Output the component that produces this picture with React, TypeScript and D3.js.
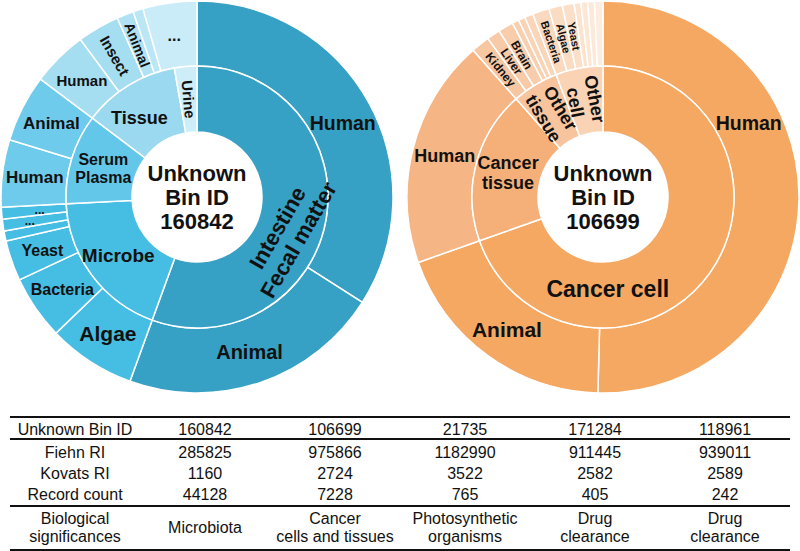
import * as React from 'react';
import * as d3 from 'd3';

// ring data, values are shares of the circle
const leftInnerNames = ['Intestine\nFecal matter', 'Microbe', 'Serum\nPlasma', 'Tissue', 'Urine'];
const leftInnerValues = [200, 67, 40, 43, 10];
const leftOuterNames = ['Human', 'Animal', 'Algae', 'Bacteria', 'Yeast', '', '...', '...', 'Human', 'Animal', 'Human', 'Insect', 'Animal', '', '...'];
const leftOuterValues = [122.5, 77.5, 26, 19, 12, 3, 3.5, 3.5, 20, 20, 16.5, 12.5, 5, 3, 16];

const rightInnerNames = ['Cancer cell', 'Cancer\ntissue', 'Other\ntissue', 'Other\ncell'];
const rightInnerValues = [250.5, 68, 20.5, 21];
const rightOuterNames = ['Human', 'Animal', 'Human', 'Kidney', 'Liver', 'Brain', '', '', '', 'Bacteria', 'Algae', 'Yeast', '', '', '', ''];
const rightOuterValues = [181.5, 69, 68, 5.5, 4, 4.5, 2, 2, 2.5, 5, 4, 3.5, 2, 2, 2, 2.5];

// table
const rowLabels = ['Unknown Bin ID', 'Fiehn RI', 'Kovats RI', 'Record count', 'Biological\nsignificances'];
const binIds = ['160842', '106699', '21735', '171284', '118961'];
const fiehnRI = ['285825', '975866', '1182990', '911445', '939011'];
const kovatsRI = ['1160', '2724', '3522', '2582', '2589'];
const recordCounts = ['44128', '7228', '765', '405', '242'];
const significances = ['Microbiota', 'Cancer\ncells and tissues', 'Photosynthetic\norganisms', 'Drug\nclearance', 'Drug\nclearance'];

const W = 800;
const H = 551;
const R0 = 65;
const R1 = 131;
const R2 = 196;
const FONT = 'Liberation Sans, Arial, Helvetica, sans-serif';

const leftInnerColors = ['#36a1c4', '#46bde2', '#63c7e9', '#9bd9f0', '#cdeef9'];
const leftOuterColors = ['#36a1c4', '#36a1c4', '#46bde2', '#46bde2', '#46bde2', '#46bde2', '#46bde2', '#46bde2',
  '#6fcbeb', '#6fcbeb', '#a5ddf1', '#a5ddf1', '#b0e2f3', '#bbe6f5', '#c9ecf8'];
const rightInnerColors = ['#f5a862', '#f5b079', '#f7c49d', '#f9d3b4'];
const rightOuterColors = ['#f5a862', '#f5a862', '#f6b584', '#f7c7a2', '#f8caa7', '#f8cdab', '#f8d0b0', '#f9d3b5',
  '#f9d6ba', '#fad9be', '#fadcc3', '#fbdfc8', '#fbe3ce', '#fce6d4', '#fce9da', '#fdede1'];

type LabelOpt = { size: number; mode?: 'h' | 'r'; rot?: number; at?: number; r?: number };

const leftInnerOpts: LabelOpt[] = [
  { size: 22, rot: -60, at: 112 },
  { size: 19 },
  { size: 16 },
  { size: 18, at: 324 },
  { size: 15, mode: 'r' },
];
const leftOuterOpts: LabelOpt[] = [
  { size: 19.5, at: 63 }, { size: 20 }, { size: 21 }, { size: 16 }, { size: 16 }, { size: 12 },
  { size: 12, r: 169 }, { size: 12, r: 158 }, { size: 17 }, { size: 17 }, { size: 15 }, { size: 15, mode: 'r' },
  { size: 14, mode: 'r' }, { size: 14 }, { size: 16 },
];
const rightInnerOpts: LabelOpt[] = [
  { size: 23, at: 177, r: 92 },
  { size: 18 },
  { size: 18, mode: 'r' },
  { size: 18, mode: 'r' },
];
const rightOuterOpts: LabelOpt[] = [
  { size: 19.5, at: 63 }, { size: 21 }, { size: 18 },
  { size: 12, mode: 'r' }, { size: 12, mode: 'r' }, { size: 12, mode: 'r' },
  { size: 11 }, { size: 11 }, { size: 11 },
  { size: 11, mode: 'r' }, { size: 11, mode: 'r' }, { size: 11, mode: 'r' },
];

function MultiText({ x, y, text, size, weight, rot }: { x: number; y: number; text: string; size: number; weight?: string; rot?: number }) {
  const lines = text.split('\n');
  const lh = size * 1.1;
  return (
    <text
      transform={`translate(${x},${y})${rot ? `rotate(${rot})` : ''}`}
      textAnchor="middle"
      fontSize={size}
      fontWeight={weight || 'bold'}
      fill="#111"
    >
      {lines.map((l, i) => (
        <tspan key={i} x={0} y={(i - (lines.length - 1) / 2) * lh} dy="0.35em">{l}</tspan>
      ))}
    </text>
  );
}

function Ring({ names, values, colors, opts, r0, r1 }: {
  names: string[]; values: number[]; colors: string[]; opts: LabelOpt[]; r0: number; r1: number;
}) {
  const pie = d3.pie<number>().sort(null).startAngle(0).endAngle(2 * Math.PI);
  const arcs = pie(values);
  const arc = d3.arc<d3.PieArcDatum<number>>().innerRadius(r0).outerRadius(r1);
  return (
    <g>
      {arcs.map((a, i) => (
        <path key={i} d={arc(a) || ''} fill={colors[i]} stroke="#fff" strokeWidth={1.5} />
      ))}
      {arcs.map((a, i) => {
        if (!names[i]) return null;
        const o = opts[i] || { size: 14 };
        const mid = o.at !== undefined ? (o.at * Math.PI) / 180 : (a.startAngle + a.endAngle) / 2;
        const rr = o.r !== undefined ? o.r : (r0 + r1) / 2;
        const x = rr * Math.sin(mid);
        const y = -rr * Math.cos(mid);
        let rot = 0;
        if (o.mode === 'r') rot = ((mid * 180) / Math.PI + 90) % 360;
        if (o.rot !== undefined) rot = o.rot;
        return <MultiText key={`t${i}`} x={x} y={y} text={names[i]} size={o.size} rot={rot} />;
      })}
    </g>
  );
}

function SunBurst(props: {
  cx: number; cy: number; id: string;
  inner: string[]; innerValues: number[]; innerColors: string[]; innerOpts: LabelOpt[];
  outer: string[]; outerValues: number[]; outerColors: string[]; outerOpts: LabelOpt[];
}) {
  return (
    <g transform={`translate(${props.cx},${props.cy})`}>
      <Ring names={props.outer} values={props.outerValues} colors={props.outerColors} opts={props.outerOpts} r0={R1} r1={R2} />
      <Ring names={props.inner} values={props.innerValues} colors={props.innerColors} opts={props.innerOpts} r0={R0} r1={R1} />
      <circle r={R0} fill="#fff" />
      <MultiText x={0} y={0} text={`Unknown\nBin ID\n${props.id}`} size={22} />
    </g>
  );
}

function Table() {
  const cols = d3.scaleBand<number>().domain(d3.range(6)).range([10, 790]);
  const cx = (i: number) => (cols(i) || 0) + cols.bandwidth() / 2;
  const rowY = d3.scaleLinear().domain([1, 3]).range([452, 494]);
  const rows = [binIds, fiehnRI, kovatsRI, recordCounts];
  const ys = [429, rowY(1), rowY(2), rowY(3)];
  return (
    <g>
      {[417, 439, 506, 550].map((y) => (
        <line key={y} x1={10} x2={790} y1={y} y2={y} stroke="#111" strokeWidth={1.8} />
      ))}
      {rows.map((r, ri) => (
        <g key={ri}>
          <MultiText x={cx(0)} y={ys[ri]} text={rowLabels[ri]} size={16} weight="normal" />
          {r.map((v, ci) => (
            <MultiText key={ci} x={cx(ci + 1)} y={ys[ri]} text={v} size={16} weight="normal" />
          ))}
        </g>
      ))}
      <MultiText x={cx(0)} y={527.5} text={rowLabels[4]} size={16} weight="normal" />
      {significances.map((s, ci) => (
        <MultiText key={ci} x={cx(ci + 1)} y={527.5} text={s} size={16} weight="normal" />
      ))}
    </g>
  );
}

export default function App() {
  return (
    <svg width={W} height={H} style={{ position: 'absolute', left: 0, top: 0, background: '#fff' }} fontFamily={FONT}>
      <SunBurst
        cx={197} cy={197} id={binIds[0]}
        inner={leftInnerNames} innerValues={leftInnerValues} innerColors={leftInnerColors} innerOpts={leftInnerOpts}
        outer={leftOuterNames} outerValues={leftOuterValues} outerColors={leftOuterColors} outerOpts={leftOuterOpts}
      />
      <SunBurst
        cx={603} cy={197} id={binIds[1]}
        inner={rightInnerNames} innerValues={rightInnerValues} innerColors={rightInnerColors} innerOpts={rightInnerOpts}
        outer={rightOuterNames} outerValues={rightOuterValues} outerColors={rightOuterColors} outerOpts={rightOuterOpts}
      />
      <Table />
    </svg>
  );
}
